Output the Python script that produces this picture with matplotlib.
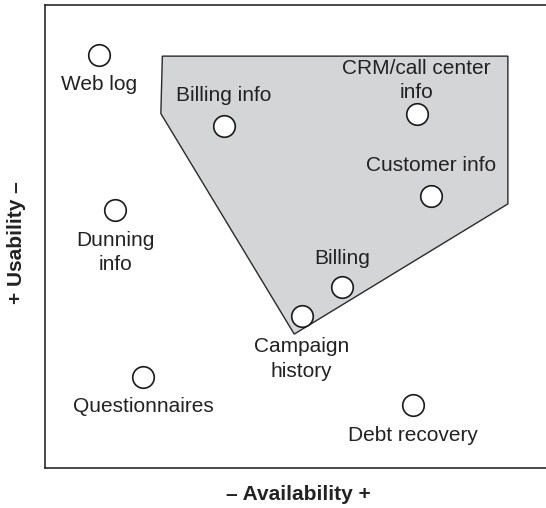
import matplotlib
matplotlib.use("Agg")
import matplotlib.pyplot as plt
from matplotlib.patches import Polygon

plt.rcParams['font.family'] = ['Liberation Sans', 'DejaVu Sans']

# Data (0-100 scale on both axes)
names = ["Web log", "Billing info", "CRM/call center\ninfo", "Customer info",
         "Dunning\ninfo", "Billing", "Campaign\nhistory", "Questionnaires",
         "Debt recovery"]
avail = [10.8, 35.8, 74.2, 77.1, 14.1, 59.4, 51.3, 19.7, 73.5]
usab = [89.1, 73.8, 76.4, 58.7, 55.7, 39.1, 32.8, 19.6, 13.5]

region_x = [23.5, 92.4, 92.4, 49.8, 23.2]
region_y = [88.9, 88.9, 57.0, 28.9, 76.5]

# label vertical offsets (points)
label_dy = [-21.4, 22.3, 24.1, 22.3, -30.6, 20.4, -31.0, -21.2, -21.4]

fig = plt.figure(figsize=(5.46, 5.08), dpi=100)
ax = fig.add_axes([44.5 / 546, 40 / 508, 1 - 44.5 / 546, 463.3 / 508])
ax.set_xlim(0, 100)
ax.set_ylim(0, 100)

poly = Polygon(list(zip(region_x, region_y)), closed=True,
               facecolor="#d4d5d7", edgecolor="#2a2a2a", linewidth=1.0, zorder=1)
ax.add_patch(poly)

ax.plot(avail, usab, linestyle="none", marker="o", markersize=15.5,
        markerfacecolor="white", markeredgecolor="#1a1a1a",
        markeredgewidth=1.2, zorder=3)

for n, x, y, dy in zip(names, avail, usab, label_dy):
    ax.annotate(n, (x, y), xytext=(0, dy), textcoords="offset points",
                ha="center", va="center", fontsize=15, color="#222222",
                linespacing=1.35, zorder=4)

ax.set_xticks([])
ax.set_yticks([])
ax.spines['right'].set_visible(False)
for s in ['left', 'top', 'bottom']:
    ax.spines[s].set_color("#2a2a2a")
    ax.spines[s].set_linewidth(1.2)

fig.text(298.7 / 546, 1 - 495 / 508, "\u2013 Availability +", ha="center",
         va="center", fontsize=15, fontweight="bold", color="#222222")
fig.text(16.5 / 546, 1 - 243 / 508, "+ Usability \u2013", ha="center",
         va="center", fontsize=15, fontweight="bold", color="#222222",
         rotation=90)

fig.savefig("out.png", dpi=100)
